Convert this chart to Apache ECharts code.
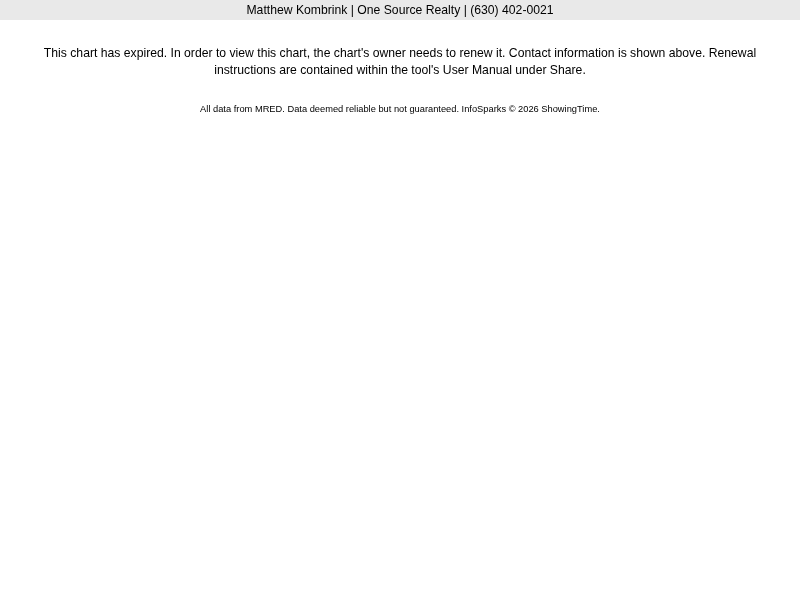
<!DOCTYPE html>
<html>
<head>
<meta charset="utf-8">
<script src="https://cdn.jsdelivr.net/npm/echarts@6/dist/echarts.min.js"></script>
<style>
  html, body { margin: 0; padding: 0; background: #fff; }
  #chart { width: 800px; height: 600px; }
</style>
</head>
<body>
<div id="chart"></div>
<script>
// texts shown on the expired chart page
const headerText = 'Matthew Kombrink | One Source Realty | (630) 402-0021'
const messageLines = [
  'This chart has expired. In order to view this chart, the chart\'s owner needs to renew it. Contact information is shown above. Renewal',
  'instructions are contained within the tool\'s User Manual under Share.'
]
const footerText = 'All data from MRED. Data deemed reliable but not guaranteed. InfoSparks \u00a9 2026 ShowingTime.'

const chart = echarts.init(document.getElementById('chart'))

const font = '"Liberation Sans", Arial, sans-serif'

const elements = [
  {
    type: 'rect',
    shape: { x: 0, y: 0, width: 800, height: 20 },
    style: { fill: '#e9e9e9' },
    silent: true
  },
  {
    type: 'text',
    x: 400, y: 11,
    style: {
      text: headerText, fill: '#000', font: '12.2px ' + font,
      textAlign: 'center', textVerticalAlign: 'middle'
    }
  }
]

messageLines.forEach((line, i) => {
  elements.push({
    type: 'text',
    x: 400, y: 54 + i * 17,
    style: {
      text: line, fill: '#000', font: '12.2px ' + font,
      textAlign: 'center', textVerticalAlign: 'middle'
    }
  })
})

elements.push({
  type: 'text',
  x: 400, y: 109,
  style: {
    text: footerText, fill: '#000', font: '9.3px ' + font,
    textAlign: 'center', textVerticalAlign: 'middle'
  }
})

chart.setOption({
  backgroundColor: '#fff',
  animation: false,
  graphic: { elements: elements }
})
</script>
</body>
</html>
